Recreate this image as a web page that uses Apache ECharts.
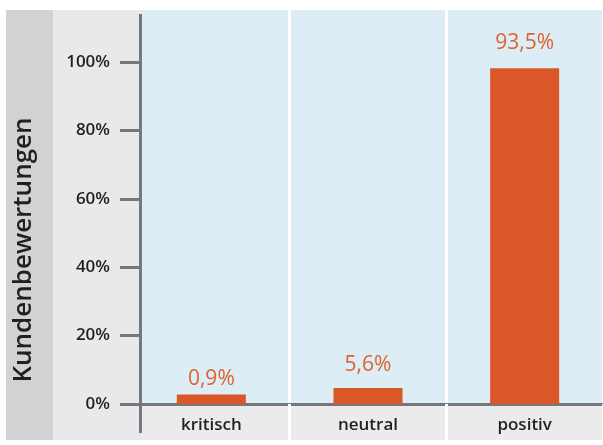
<!DOCTYPE html>
<html><head><meta charset="utf-8">
<script src="https://cdn.jsdelivr.net/npm/echarts@6/dist/echarts.min.js"></script>
<style>html,body{margin:0;padding:0;background:#fff}#c{width:603px;height:445px}</style>
</head><body><div id="c"></div>
<script>
const categories = ['kritisch', 'neutral', 'positiv'];
const barValues = [2.8, 4.7, 98.2];
const valueLabels = ['0,9%', '5,6%', '93,5%'];
const yTicks = [0, 20, 40, 60, 80, 100];
const yTickLabels = ['0%', '20%', '40%', '60%', '80%', '100%'];
const axisTitle = 'Kundenbewertungen';

const FONT = 'Open Sans';
const labelDistances = [5, 12, 15];
const chart = echarts.init(document.getElementById('c'), null, {renderer: 'canvas'});
const option = {
  animation: false,
  backgroundColor: '#fff',
  graphic: [
    {type: 'rect', z: -1, shape: {x: 6, y: 10, width: 47, height: 430}, style: {fill: '#d1d2d4'}},
    {type: 'rect', z: 1, shape: {x: 53, y: 10, width: 88, height: 430}, style: {fill: '#e8e9ea'}},
    {type: 'rect', z: -1, shape: {x: 141, y: 404, width: 470, height: 36}, style: {fill: '#ebebec'}},
    {type: 'line', z: 5, shape: {x1: 140.5, y1: 14, x2: 140.5, y2: 433}, style: {stroke: '#76777a', lineWidth: 3}}
  ],
  grid: {left: 133, top: 10, width: 472, height: 394, show: true, backgroundColor: '#dcedf5', borderWidth: 0, z: 0},
  xAxis: {
    type: 'category', data: categories, z: 0,
    axisLine: {lineStyle: {color: '#76777a', width: 3}},
    axisTick: {show: true, length: 36, lineStyle: {color: '#ffffff', width: 3}},
    axisLabel: {margin: 13, fontSize: 17, fontWeight: 600, color: '#231f20', fontFamily: FONT},
    splitLine: {show: true, lineStyle: {color: '#ffffff', width: 3}}
  },
  yAxis: {
    type: 'value', min: 0, max: 115.2, interval: 20, offset: -8, z: 3,
    axisLine: {show: false},
    axisTick: {show: true, length: 21, inside: false, customValues: yTicks, lineStyle: {color: '#76777a', width: 3}},
    axisLabel: {customValues: yTicks, margin: 31, fontSize: 17, fontWeight: 600, color: '#231f20', fontFamily: FONT,
      formatter: v => yTickLabels[yTicks.indexOf(v)] || ''},
    splitLine: {show: false},
    name: axisTitle, nameLocation: 'middle', nameRotate: 90, nameGap: 104,
    nameTextStyle: {fontSize: 26, fontWeight: 600, color: '#231f20', fontFamily: FONT, padding: [0, 86, 0, 0]}
  },
  series: [{
    type: 'bar', barWidth: 69, z: 2,
    itemStyle: {color: '#dc5727'},
    data: barValues.map((v, i) => ({
      value: v,
      label: {show: true, position: 'top', distance: labelDistances[i], formatter: valueLabels[i],
        fontSize: 21, fontWeight: 500, color: '#e0622f', fontFamily: FONT}
    }))
  }]
};
chart.setOption(option);
</script></body></html>
